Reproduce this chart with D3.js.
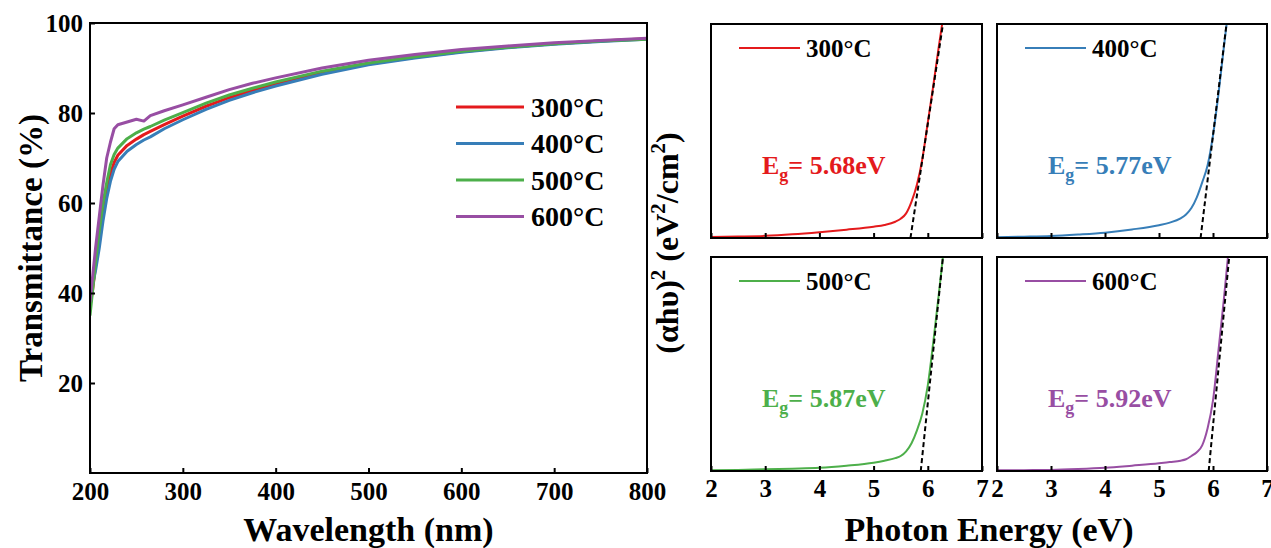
<!DOCTYPE html>
<html>
<head>
<meta charset="utf-8">
<script src="https://cdn.jsdelivr.net/npm/d3@7"></script>
<style>
  html, body { margin: 0; padding: 0; background: #fff; }
  svg { display: block; font-family: "Liberation Serif", "Times New Roman", serif; font-weight: bold; }
</style>
</head>
<body>
<svg id="chart" width="1271" height="548"></svg>
<script>
// ---------- Transmittance spectra ----------
const wavelength = [200, 203, 206, 210, 214, 218, 222, 226, 230, 240, 250, 258, 265, 280, 300, 325, 350, 375, 400, 450, 500, 550, 600, 650, 700, 750, 800];
const trans300 = [37, 41, 46, 52, 58, 62.5, 66.5, 69, 70.6, 72.8, 74.2, 75.2, 75.9, 77.4, 79.3, 81.5, 83.4, 85.0, 86.5, 89.0, 90.9, 92.4, 93.6, 94.6, 95.4, 96.0, 96.5];
const trans400 = [39, 42, 45, 50, 56, 61, 64.8, 67.5, 69.2, 71.5, 73.0, 74.0, 74.7, 76.5, 78.5, 80.8, 82.8, 84.5, 86.0, 88.6, 90.7, 92.2, 93.5, 94.5, 95.3, 95.9, 96.4];
const trans500 = [35, 41, 47, 54, 60, 64.5, 68.5, 70.8, 72.2, 74.3, 75.6, 76.4, 77.0, 78.4, 80.1, 82.2, 84.0, 85.5, 86.9, 89.3, 91.1, 92.5, 93.7, 94.6, 95.4, 96.0, 96.4];
const trans600 = [38, 44, 50, 57, 64, 70, 73.5, 76.5, 77.4, 78.0, 78.6, 78.2, 79.4, 80.5, 81.8, 83.5, 85.2, 86.6, 87.8, 90.0, 91.7, 93.0, 94.1, 94.9, 95.6, 96.1, 96.6];
const wavelengthTicks = [200, 300, 400, 500, 600, 700, 800];
const transTicks = [20, 40, 60, 80, 100];

const sampleLabels = ["300°C", "400°C", "500°C", "600°C"];
const sampleColors = ["#e41a1c", "#377eb8", "#4daf4a", "#984ea3"];

// ---------- Tauc plots, (αhν)² in arbitrary units ----------
const energy = [2, 2.5, 3, 3.5, 4, 4.5, 5, 5.2, 5.4, 5.5, 5.6, 5.7, 5.8, 5.9, 6.0, 6.1, 6.2, 6.3];
const tauc300 = [0.5, 0.7, 1.0, 1.7, 2.7, 3.9, 5.3, 6.1, 7.6, 9, 11.5, 17, 25, 37, 54, 71, 89, 106];
const tauc400 = [0.4, 0.6, 0.9, 1.6, 2.5, 4, 6, 7.2, 9.2, 11, 14, 19, 26, 34, 48, 67, 89, 110];
const tauc500 = [0.3, 0.5, 0.8, 1.1, 1.5, 2.5, 3.9, 4.8, 6, 7, 9.2, 13, 19, 27, 40, 60, 82, 105];
const tauc600 = [0.3, 0.4, 0.5, 0.9, 1.5, 2.5, 3.6, 4.2, 4.8, 5.5, 7, 8.8, 12, 20, 33, 56, 80, 106];
// band-gap (x-intercept) and the energy where each tangent reaches the top
const bandGap = [5.68, 5.77, 5.87, 5.92];
const tangentTop = [6.28, 6.25, 6.28, 6.30];
const energyTicks = [2, 3, 4, 5, 6, 7];

const svg = d3.select("#chart");

// ================= Left: transmittance =================
const L = { left: 90, right: 647, top: 23, bottom: 473 };
const xW = d3.scaleLinear().domain([200, 800]).range([L.left, L.right]);
const yT = d3.scaleLinear().domain([0, 100]).range([L.bottom, L.top]);

svg.append("clipPath").attr("id", "clipL")
  .append("rect").attr("x", L.left).attr("y", L.top)
  .attr("width", L.right - L.left).attr("height", L.bottom - L.top);

const transSeries = [trans300, trans400, trans500, trans600];
const lineT = d3.line().x((d, i) => xW(wavelength[i])).y(d => yT(d));
const gLines = svg.append("g").attr("clip-path", "url(#clipL)");
transSeries.forEach((s, k) => {
  gLines.append("path").datum(s)
    .attr("d", lineT)
    .attr("fill", "none")
    .attr("stroke", sampleColors[k])
    .attr("stroke-width", 3)
    .attr("stroke-linejoin", "round");
});

const axB = svg.append("g").attr("transform", `translate(0,${L.bottom})`)
  .call(d3.axisBottom(xW).tickValues(wavelengthTicks).tickFormat(d3.format("d"))
    .tickSizeInner(-5).tickSizeOuter(0).tickPadding(9));
const axL = svg.append("g").attr("transform", `translate(${L.left},0)`)
  .call(d3.axisLeft(yT).tickValues(transTicks).tickFormat(d3.format("d"))
    .tickSizeInner(-5).tickSizeOuter(0).tickPadding(7));
[axB, axL].forEach(a => {
  a.select(".domain").remove();
  a.selectAll(".tick line").attr("stroke", "#000").attr("stroke-width", 2);
  a.selectAll(".tick text").attr("font-size", 25).attr("font-family", "Liberation Serif").attr("font-weight", "bold").attr("fill", "#000");
});

svg.append("rect").attr("x", L.left).attr("y", L.top)
  .attr("width", L.right - L.left).attr("height", L.bottom - L.top)
  .attr("fill", "none").attr("stroke", "#000").attr("stroke-width", 2);

// legend
const legY0 = 107, legDY = 36.5;
sampleLabels.forEach((lab, k) => {
  const y = legY0 + k * legDY;
  svg.append("line").attr("x1", 456).attr("x2", 524).attr("y1", y).attr("y2", y)
    .attr("stroke", sampleColors[k]).attr("stroke-width", 3);
  svg.append("text").attr("x", 531).attr("y", y).attr("dy", "0.35em")
    .attr("font-size", 28).text(lab);
});

svg.append("text").attr("x", (L.left + L.right) / 2).attr("y", 541)
  .attr("text-anchor", "middle").attr("font-size", 34).text("Wavelength (nm)");
svg.append("text").attr("transform", `translate(42,${(L.top + L.bottom) / 2}) rotate(-90)`)
  .attr("text-anchor", "middle").attr("font-size", 33).text("Transmittance (%)");

// ================= Right: Tauc panels =================
const panels = [
  { x0: 711, x1: 982, y0: 24, y1: 238, labels: false },
  { x0: 997, x1: 1267, y0: 24, y1: 238, labels: false },
  { x0: 711, x1: 982, y0: 257, y1: 471, labels: true },
  { x0: 997, x1: 1267, y0: 257, y1: 471, labels: true }
];
const taucSeries = [tauc300, tauc400, tauc500, tauc600];

panels.forEach((p, k) => {
  const x = d3.scaleLinear().domain([2, 7]).range([p.x0, p.x1]);
  const y = d3.scaleLinear().domain([0, 100]).range([p.y1, p.y0]);
  const id = "clipP" + k;
  svg.append("clipPath").attr("id", id)
    .append("rect").attr("x", p.x0).attr("y", p.y0)
    .attr("width", p.x1 - p.x0).attr("height", p.y1 - p.y0);

  const g = svg.append("g").attr("clip-path", `url(#${id})`);
  g.append("path").datum(taucSeries[k])
    .attr("d", d3.line().curve(d3.curveMonotoneX).x((d, i) => x(energy[i])).y(d => y(d)))
    .attr("fill", "none").attr("stroke", sampleColors[k]).attr("stroke-width", 2);
  g.append("line")
    .attr("x1", x(bandGap[k])).attr("y1", y(0))
    .attr("x2", x(tangentTop[k])).attr("y2", y(100))
    .attr("stroke", "#000").attr("stroke-width", 2).attr("stroke-dasharray", "5,3");

  const ax = svg.append("g").attr("transform", `translate(0,${p.y1})`)
    .call(d3.axisBottom(x).tickValues(energyTicks).tickFormat(d3.format("d"))
      .tickSizeInner(-5).tickSizeOuter(0).tickPadding(8));
  ax.select(".domain").remove();
  ax.selectAll(".tick line").attr("stroke", "#000").attr("stroke-width", 2);
  ax.selectAll(".tick text").attr("font-size", 25).attr("font-family", "Liberation Serif")
    .attr("font-weight", "bold").attr("fill", "#000")
    .style("display", p.labels ? null : "none");

  svg.append("rect").attr("x", p.x0).attr("y", p.y0)
    .attr("width", p.x1 - p.x0).attr("height", p.y1 - p.y0)
    .attr("fill", "none").attr("stroke", "#000").attr("stroke-width", 2);

  // panel legend
  const ly = p.y0 + 24;
  svg.append("line").attr("x1", p.x0 + 28).attr("x2", p.x0 + 89).attr("y1", ly).attr("y2", ly)
    .attr("stroke", sampleColors[k]).attr("stroke-width", 2);
  svg.append("text").attr("x", p.x0 + 95).attr("y", ly).attr("dy", "0.35em")
    .attr("font-size", 25).text(sampleLabels[k]);

  // band-gap label
  const t = svg.append("text").attr("x", p.x0 + 51).attr("y", p.y0 + 150)
    .attr("font-size", 26).attr("fill", sampleColors[k]);
  t.append("tspan").text("E");
  t.append("tspan").attr("font-size", 18).attr("dy", 7).text("g");
  t.append("tspan").attr("dy", -7).text("= " + bandGap[k].toFixed(2) + "eV");
});

svg.append("text").attr("x", (711 + 1267) / 2).attr("y", 541)
  .attr("text-anchor", "middle").attr("font-size", 34).text("Photon Energy (eV)");

const yt = svg.append("text").attr("transform", `translate(678,243) rotate(-90)`)
  .attr("text-anchor", "middle").attr("font-size", 32);
yt.append("tspan").text("(αhυ)");
yt.append("tspan").attr("font-size", 21).attr("dy", -13).text("2");
yt.append("tspan").attr("dy", 13).text(" (eV");
yt.append("tspan").attr("font-size", 21).attr("dy", -13).text("2");
yt.append("tspan").attr("dy", 13).text("/cm");
yt.append("tspan").attr("font-size", 21).attr("dy", -13).text("2");
yt.append("tspan").attr("dy", 13).text(")");
</script>
</body>
</html>
